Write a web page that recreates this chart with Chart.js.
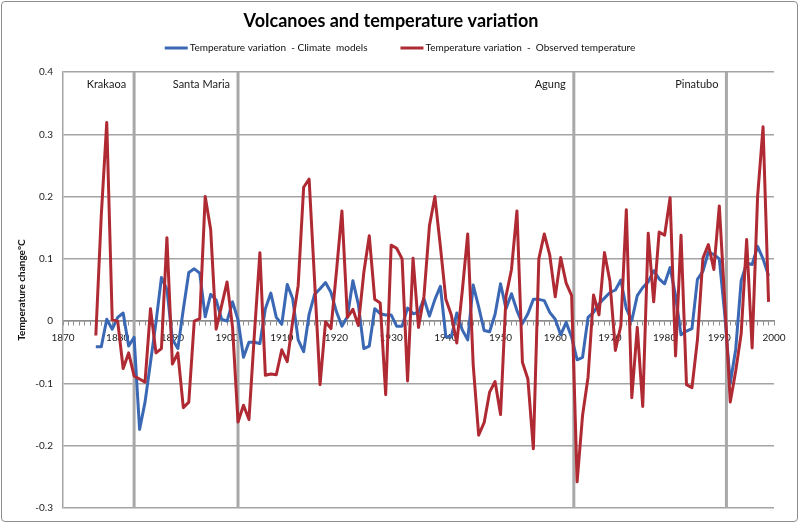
<!DOCTYPE html>
<html>
<head>
<meta charset="utf-8">
<title>Volcanoes and temperature variation</title>
<script src="https://cdn.jsdelivr.net/npm/chart.js@4.4.0/dist/chart.umd.min.js"></script>
<style>
  html, body { margin: 0; padding: 0; background: #fff; }
  #wrap { position: relative; width: 800px; height: 524px; }
  #frame { position: absolute; left: 1px; top: 1px; width: 795px; height: 519px;
           border: 1.5px solid #8c8c8c; border-radius: 4px; pointer-events: none; }
</style>
</head>
<body>
<div id="wrap">
  <canvas id="chart"></canvas>
  <div id="frame"></div>
</div>
<script>
// anos com dados (1876 - 1999)
const years = [
  1876, 1877, 1878, 1879, 1880, 1881, 1882, 1883, 1884, 1885,
  1886, 1887, 1888, 1889, 1890, 1891, 1892, 1893, 1894, 1895,
  1896, 1897, 1898, 1899, 1900, 1901, 1902, 1903, 1904, 1905,
  1906, 1907, 1908, 1909, 1910, 1911, 1912, 1913, 1914, 1915,
  1916, 1917, 1918, 1919, 1920, 1921, 1922, 1923, 1924, 1925,
  1926, 1927, 1928, 1929, 1930, 1931, 1932, 1933, 1934, 1935,
  1936, 1937, 1938, 1939, 1940, 1941, 1942, 1943, 1944, 1945,
  1946, 1947, 1948, 1949, 1950, 1951, 1952, 1953, 1954, 1955,
  1956, 1957, 1958, 1959, 1960, 1961, 1962, 1963, 1964, 1965,
  1966, 1967, 1968, 1969, 1970, 1971, 1972, 1973, 1974, 1975,
  1976, 1977, 1978, 1979, 1980, 1981, 1982, 1983, 1984, 1985,
  1986, 1987, 1988, 1989, 1990, 1991, 1992, 1993, 1994, 1995,
  1996, 1997, 1998, 1999
];

// modelos climaticos (linha azul)
const modelTemp = [
  -0.041, -0.041, 0.003, -0.013, 0.006, 0.013, -0.04, -0.026, -0.174, -0.13,
  -0.066, -0.002, 0.07, 0.051, -0.029, -0.044, 0.019, 0.078, 0.084, 0.077,
  0.007, 0.043, 0.034, 0.003, 0.0, 0.031, 0.002, -0.058, -0.034, -0.034,
  -0.036, 0.02, 0.045, 0.006, -0.005, 0.059, 0.036, -0.03, -0.049, 0.011,
  0.043, 0.052, 0.062, 0.046, 0.015, -0.008, 0.007, 0.065, 0.027, -0.044,
  -0.04, 0.02, 0.012, 0.01, 0.01, -0.008, -0.008, 0.021, 0.012, 0.014,
  0.036, 0.008, 0.035, 0.056, -0.025, -0.025, 0.013, -0.014, -0.03, 0.058,
  0.023, -0.015, -0.017, 0.011, 0.06, 0.02, 0.044, 0.017, -0.004, 0.012,
  0.035, 0.035, 0.033, 0.014, 0.003, -0.022, -0.002, -0.026, -0.062, -0.058,
  0.006, 0.014, 0.028, 0.037, 0.046, 0.05, 0.066, 0.02, 0.001, 0.041,
  0.054, 0.063, 0.081, 0.068, 0.06, 0.086, 0.041, -0.022, -0.016, -0.012,
  0.067, 0.08, 0.111, 0.107, 0.1, 0.01, -0.1, -0.045, 0.065, 0.093,
  0.091, 0.12, 0.1, 0.073
];

// temperatura observada (linha vermelha)
const observedTemp = [
  -0.023, 0.17, 0.319, 0.002, 0.0, -0.076, -0.051, -0.088, -0.093, -0.098,
  0.02, -0.051, -0.044, 0.134, -0.069, -0.051, -0.139, -0.13, 0.0, 0.004,
  0.2, 0.147, -0.013, 0.025, 0.063, -0.01, -0.162, -0.135, -0.158, -0.02,
  0.11, -0.087, -0.085, -0.086, -0.046, -0.065, 0.0, 0.057, 0.215, 0.228,
  0.065, -0.102, -0.001, -0.012, 0.08, 0.177, 0.006, 0.019, -0.007, 0.078,
  0.137, 0.035, 0.029, -0.118, 0.122, 0.117, 0.1, -0.096, 0.101, -0.01,
  0.04, 0.153, 0.2, 0.12, 0.035, 0.01, -0.035, 0.048, 0.14, -0.07,
  -0.183, -0.163, -0.114, -0.097, -0.15, 0.04, 0.083, 0.177, -0.066, -0.093,
  -0.205, 0.1, 0.14, 0.106, 0.039, 0.102, 0.061, 0.041, -0.258, -0.151,
  -0.09, 0.042, 0.01, 0.11, 0.064, -0.047, -0.007, 0.179, -0.123, -0.01,
  -0.137, 0.141, 0.031, 0.143, 0.138, 0.198, -0.056, 0.138, -0.102, -0.107,
  -0.03, 0.101, 0.123, 0.083, 0.185, 0.03, -0.13, -0.08, -0.02, 0.131,
  -0.043, 0.2, 0.312, 0.031
];

// rótulos do eixo x (a cada 10 anos)
const decadeLabels = [1870, 1880, 1890, 1900, 1910, 1920, 1930, 1940, 1950, 1960, 1970, 1980, 1990, 2000];

// erupções vulcânicas
const volcanoNames = ['Krakaoa', 'Santa Maria', 'Agung', 'Pinatubo'];
const volcanoYears = [1883, 1902, 1963.4, 1991.3];

const FONT = 'Lato, "Open Sans", sans-serif';
Chart.defaults.font.family = FONT;
Chart.defaults.color = '#222';

// linhas verticais dos vulcões, atrás das séries
const volcanoPlugin = {
  id: 'volcanoes',
  beforeDatasetsDraw(chart) {
    const { ctx, chartArea, scales } = chart;
    ctx.save();
    volcanoYears.forEach((ano, i) => {
      const px = scales.x.getPixelForValue(ano);
      ctx.strokeStyle = '#a8a8a8';
      ctx.lineWidth = 3;
      ctx.beginPath();
      ctx.moveTo(px, chartArea.top);
      ctx.lineTo(px, chartArea.bottom);
      ctx.stroke();

      ctx.fillStyle = '#1a1a1a';
      ctx.font = '11px ' + FONT;
      ctx.textAlign = 'right';
      ctx.textBaseline = 'middle';
      ctx.fillText(volcanoNames[i], px - 8, chartArea.top + 12);
    });
    ctx.restore();
  }
};

// legenda com amostra de linha, centrada abaixo do título
const lineLegendPlugin = {
  id: 'lineLegend',
  afterDraw(chart) {
    const ctx = chart.ctx;
    ctx.save();
    ctx.font = '10px ' + FONT;
    const itens = chart.data.datasets.map(ds => ({
      texto: ds.label,
      cor: ds.borderColor,
      largura: ctx.measureText(ds.label).width
    }));
    const amostra = 23, folga = 2, espaco = 33;
    let total = 0;
    itens.forEach(it => { total += amostra + folga + it.largura; });
    total += espaco * (itens.length - 1);

    let x = (chart.width - total) / 2;
    const y = 48;
    itens.forEach(it => {
      ctx.strokeStyle = it.cor;
      ctx.lineWidth = 3;
      ctx.beginPath();
      ctx.moveTo(x, y);
      ctx.lineTo(x + amostra, y);
      ctx.stroke();
      ctx.fillStyle = '#111';
      ctx.textAlign = 'left';
      ctx.textBaseline = 'middle';
      ctx.fillText(it.texto, x + amostra + folga, y);
      x += amostra + folga + it.largura + espaco;
    });
    ctx.restore();
  }
};

const ctx = document.getElementById('chart').getContext('2d');
new Chart(ctx, {
  type: 'line',
  data: {
    datasets: [{
      label: 'Temperature variation  - Climate  models',
      data: years.map((ano, i) => ({ x: ano, y: modelTemp[i] })),
      borderColor: '#3a68b4',
      backgroundColor: '#3a68b4',
      borderWidth: 3,
      borderJoinStyle: 'round',
      pointRadius: 0,
      tension: 0,
      order: 1
    }, {
      label: 'Temperature variation  -  Observed temperature',
      data: years.map((ano, i) => ({ x: ano, y: observedTemp[i] })),
      borderColor: '#b02a34',
      backgroundColor: '#b02a34',
      borderWidth: 3,
      borderJoinStyle: 'round',
      pointRadius: 0,
      tension: 0,
      order: 0
    }]
  },
  options: {
    responsive: true,
    maintainAspectRatio: false,
    animation: false,
    layout: {
      padding: { left: 8, right: 26, top: 0, bottom: 14 }
    },
    plugins: {
      legend: { display: false },
      tooltip: { enabled: false },
      title: {
        display: true,
        text: 'Volcanoes and temperature variation',
        color: '#000',
        font: { size: 18, weight: 'bold' },
        padding: { top: 10, bottom: 40.4 }
      }
    },
    scales: {
      x: {
        type: 'linear',
        min: 1870,
        max: 2000,
        position: { y: 0 },
        ticks: {
          stepSize: 1,
          autoSkip: false,
          maxRotation: 0,
          padding: 7,
          font: { size: 10 },
          color: '#222',
          callback: value => decadeLabels.includes(value) ? String(value) : ''
        },
        grid: { drawOnChartArea: false, tickLength: 4, color: '#8c8c8c', lineWidth: 1 },
        border: { color: '#8c8c8c', width: 1.5 }
      },
      y: {
        min: -0.3,
        max: 0.4,
        afterFit: scale => { scale.width = 55; },
        ticks: {
          stepSize: 0.1,
          padding: 10,
          font: { size: 10 },
          color: '#222',
          callback: value => {
            const v = Math.round(value * 10) / 10;
            return v === 0 ? '0' : v.toFixed(1);
          }
        },
        grid: { color: '#a4a4a4', lineWidth: 1.5, drawTicks: false },
        border: { display: true, color: '#a4a4a4', width: 1.5 },
        title: {
          display: true,
          text: 'Temperature change°C',
          color: '#111',
          font: { size: 10, weight: 'bold' },
          padding: { top: 8, bottom: 0 }
        }
      }
    }
  },
  plugins: [volcanoPlugin, lineLegendPlugin]
});
</script>
</body>
</html>
